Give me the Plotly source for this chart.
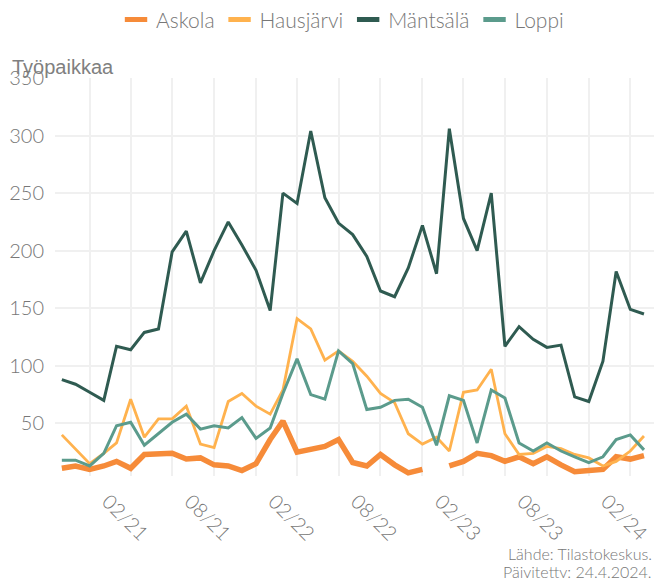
import pandas as pd
import plotly.graph_objects as go

months = pd.date_range("2020-11-01", periods=43, freq="MS")

askola = [11, 13, 10, 13, 17, 11, 23, 24, 24, 19, 20, 14, 13, 9, 15, 36, 52, 25, 27, 30, 36,
          16, 13, 23, 14, 7, 10, None, 13, 17, 24, 22, 17, 21, 15, 21, 14, 8, 9, 10, 21, 19, 22]
hausjarvi = [40, 28, 15, 24, 33, 71, 38, 54, 54, 65, 32, 29, 69, 76, 65, 58, 79, 141, 132, 105, 113,
             104, 91, 76, 68, 41, 32, 38, 26, 77, 79, 97, 41, 23, 24, 30, 28, 23, 20, 13, 17, 26, 39]
mantsala = [88, 84, 77, 70, 117, 114, 129, 132, 199, 217, 172, 200, 225, 205, 183, 148, 250, 241, 304, 246, 224,
            214, 195, 165, 160, 185, 222, 180, 306, 228, 200, 250, 117, 134, 123, 116, 118, 73, 69, 104, 182, 149, 145]
loppi = [18, 18, 13, 24, 48, 51, 31, 41, 51, 58, 45, 48, 46, 55, 37, 46, 76, 106, 75, 71, 113,
         102, 62, 64, 70, 71, 64, 31, 74, 70, 33, 79, 72, 33, 26, 33, 26, 21, 16, 21, 36, 40, 27]

series_names = ["Askola", "Hausjärvi", "Mäntsälä", "Loppi"]
series_values = [askola, hausjarvi, mantsala, loppi]
colors = ["#F68B39", "#FFB24E", "#2F5B51", "#5B9B8C"]
widths = [5.5, 2.8, 3, 3]

tick_dates = ["2021-02-01", "2021-08-01", "2022-02-01", "2022-08-01", "2023-02-01", "2023-08-01", "2024-02-01"]
tick_labels = ["02/21", "08/21", "02/22", "08/22", "02/23", "08/23", "02/24"]
y_ticks = [50, 100, 150, 200, 250, 300, 350]

GRAY = "#777777"
GRID = "#F0F0F0"
FONT = "Lato"

fig = go.Figure()
for name, vals, col, w in zip(series_names, series_values, colors, widths):
    fig.add_trace(go.Scatter(x=months, y=vals, mode="lines", name=name,
                             line=dict(color=col, width=w), legendgroup=name,
                             showlegend=False, connectgaps=False))
for name, col in zip(series_names, colors):
    fig.add_trace(go.Scatter(x=[None], y=[None], mode="markers", name=name, legendgroup=name,
                             marker=dict(symbol="line-ew", size=18, color=col,
                                         line=dict(color=col, width=5)),
                             showlegend=True))

fig.update_layout(
    width=654, height=578,
    margin=dict(l=55, r=0, t=78, b=102, autoexpand=False),
    paper_bgcolor="white", plot_bgcolor="white",
    font=dict(family=FONT, color=GRAY, size=19),
    legend=dict(orientation="h", x=0.48, xanchor="center", y=1.146, yanchor="middle",
                font=dict(size=21, color=GRAY, family=FONT, weight=300), itemsizing="trace"),
    xaxis=dict(type="date", range=["2020-10-17", "2024-05-23"],
               tickvals=tick_dates, ticktext=tick_labels, tickangle=45,
               showgrid=False, zeroline=False, showline=False, ticks="",
               ticklabelstandoff=9, ticklabelshift=4, ticklabeloverflow="allow",
               tickfont=dict(size=20, color=GRAY, family=FONT, weight=300),
               minor=dict(tick0="2021-01-01", dtick="M3", showgrid=True,
                          gridcolor=GRID, gridwidth=1.5)),
    yaxis=dict(range=[4.3, 350], tickvals=y_ticks, showgrid=True, gridcolor=GRID, gridwidth=2,
               zeroline=False, showline=False, ticks="", ticklabelstandoff=10,
               tickfont=dict(size=20, color=GRAY, family=FONT, weight=300)),
    annotations=[
        dict(text="Työpaikkaa", xref="paper", yref="paper", x=0, y=1, xshift=-45, yshift=11,
             xanchor="left", yanchor="middle", showarrow=False,
             font=dict(family="Liberation Sans", size=20, color="#808080")),
        dict(text="Lähde: Tilastokeskus.", xref="paper", yref="paper",
             x=1, y=0, yshift=-77, xanchor="right", yanchor="middle", showarrow=False,
             font=dict(family=FONT, size=16, color=GRAY, weight=300)),
        dict(text="Päivitetty: 24.4.2024.", xref="paper", yref="paper",
             x=1, y=0, yshift=-95, xanchor="right", yanchor="middle", showarrow=False,
             font=dict(family=FONT, size=16, color=GRAY, weight=300)),
    ],
)

fig.write_html("out.html", config={"displayModeBar": False},
               post_script="document.body.style.margin='0';document.body.style.overflow='hidden';")
